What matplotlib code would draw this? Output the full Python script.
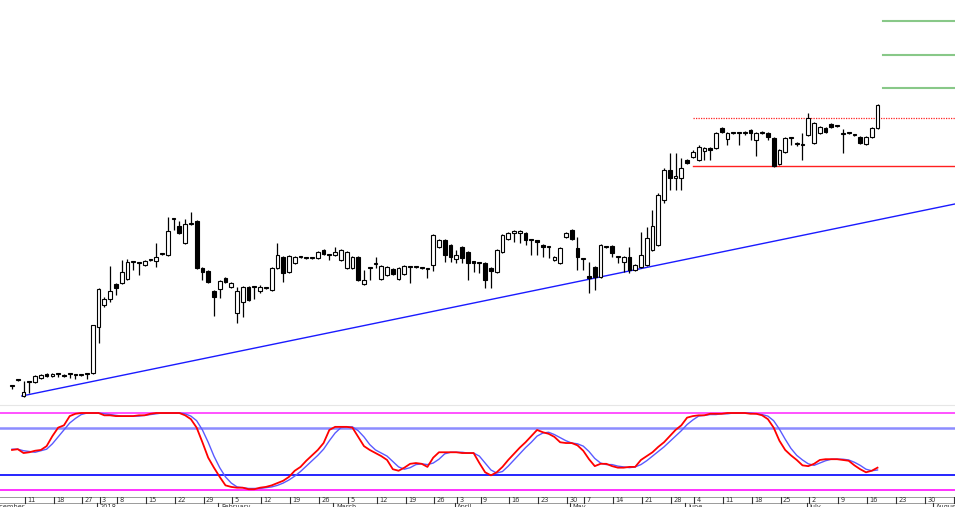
import matplotlib
matplotlib.use('Agg')
import matplotlib.pyplot as plt

# daily candles, prices in cents
opens = [114, 120, 104, 118, 118, 122, 126, 124, 126, 125, 126, 125, 125, 126, 127, 173, 195, 201, 216, 217,
         221, 238, 237, 235, 240, 239, 246, 245, 281, 274, 257, 276, 279, 232, 229, 209, 211, 222, 213, 187,
         198, 213, 213, 209, 212, 210, 232, 243, 228, 237, 243, 242, 242, 242, 250, 245, 245, 240, 232, 232,
         243, 216, 232, 236, 221, 225, 231, 221, 226, 233, 233, 232, 231, 235, 253, 260, 255, 241, 253, 248,
         239, 237, 237, 232, 228, 248, 261, 267, 267, 267, 260, 260, 255, 253, 240, 237, 263, 270, 252, 241,
         224, 233, 223, 253, 254, 243, 238, 243, 230, 233, 235, 250, 255, 300, 330, 322, 322, 340, 343, 340,
         349, 352, 352, 372, 361, 367, 367, 367, 370, 360, 367, 367, 362, 336, 348, 362, 356, 355, 365, 357,
         367, 372, 376, 374, 366, 367, 365, 363, 356, 363, 372]
highs = [114, 120, 119, 119, 125, 126, 127, 127, 126, 126, 126, 125, 125, 126, 175, 212, 203, 234, 217, 240,
         241, 238, 237, 240, 240, 257, 246, 283, 281, 279, 281, 288, 280, 233, 230, 210, 220, 223, 218, 213,
         214, 214, 213, 215, 213, 233, 257, 244, 245, 244, 243, 242, 242, 249, 251, 245, 253, 251, 249, 244,
         244, 230, 232, 243, 235, 234, 232, 233, 235, 234, 233, 232, 231, 266, 261, 261, 256, 250, 254, 249,
         239, 237, 238, 233, 251, 266, 268, 270, 270, 268, 260, 260, 256, 253, 244, 253, 268, 271, 263, 241,
         238, 234, 256, 253, 255, 243, 244, 253, 236, 268, 273, 290, 307, 332, 347, 347, 342, 341, 350, 355,
         353, 353, 368, 373, 368, 367, 367, 369, 371, 368, 369, 368, 363, 351, 363, 363, 358, 367, 387, 378,
         374, 373, 377, 374, 371, 367, 365, 364, 364, 373, 396]
lows = [111, 119, 103, 107, 117, 121, 123, 123, 123, 123, 122, 121, 124, 121, 126, 157, 193, 198, 205, 216,
        220, 230, 225, 234, 239, 233, 245, 244, 270, 266, 256, 275, 231, 220, 217, 184, 202, 217, 212, 177,
        183, 199, 201, 207, 211, 209, 231, 218, 227, 236, 242, 241, 241, 241, 245, 240, 244, 239, 231, 231,
        219, 215, 220, 232, 220, 224, 225, 220, 225, 217, 232, 231, 222, 229, 252, 238, 238, 237, 237, 220,
        228, 227, 212, 212, 227, 247, 260, 258, 257, 255, 245, 245, 243, 242, 239, 236, 262, 260, 230, 230,
        207, 210, 222, 252, 243, 237, 228, 227, 229, 232, 234, 249, 254, 297, 310, 310, 310, 336, 342, 339,
        340, 340, 351, 367, 355, 366, 355, 365, 360, 344, 366, 360, 333, 335, 347, 355, 354, 340, 364, 356,
        366, 367, 372, 373, 347, 366, 364, 356, 355, 362, 371]
closes = [114, 120, 108, 119, 124, 125, 124, 126, 126, 124, 126, 125, 125, 126, 175, 211, 201, 209, 212, 228,
          238, 238, 237, 239, 240, 243, 246, 269, 281, 267, 276, 276, 232, 228, 218, 203, 219, 218, 217, 209,
          213, 200, 213, 213, 212, 232, 245, 227, 244, 243, 243, 242, 242, 248, 246, 245, 248, 250, 248, 243,
          220, 220, 232, 236, 234, 233, 226, 232, 234, 233, 233, 232, 231, 265, 260, 245, 243, 245, 242, 237,
          237, 237, 220, 229, 250, 265, 267, 269, 269, 260, 260, 258, 253, 253, 243, 252, 267, 261, 243, 241,
          222, 223, 255, 253, 247, 243, 243, 230, 235, 245, 262, 274, 305, 330, 322, 324, 332, 337, 348, 353,
          352, 350, 367, 368, 367, 367, 367, 367, 367, 367, 368, 363, 334, 350, 362, 362, 356, 355, 382, 377,
          373, 368, 373, 374, 366, 367, 365, 357, 363, 372, 395]

# slow stochastic %K (red) and %D (blue)
stoch_k = [52, 53, 48, 49, 51, 52, 57, 70, 81, 84, 96, 99, 100, 100, 100, 100, 97, 97, 96, 96,
           96, 96, 97, 97, 99, 100, 100, 100, 100, 100, 97, 92, 81, 62, 42, 29, 17, 6, 4, 3,
           3, 1, 1, 3, 4, 6, 9, 12, 17, 25, 30, 38, 45, 52, 61, 78, 82, 82, 82, 81,
           69, 57, 52, 48, 44, 39, 27, 25, 29, 34, 35, 34, 30, 42, 49, 49, 49, 49, 48, 48,
           48, 35, 23, 19, 23, 30, 39, 47, 55, 62, 70, 78, 75, 73, 69, 62, 61, 61, 58, 51,
           40, 31, 34, 34, 31, 29, 29, 30, 30, 39, 44, 49, 56, 62, 70, 78, 84, 94, 96, 97,
           97, 99, 99, 99, 100, 100, 100, 100, 99, 99, 97, 92, 81, 64, 52, 45, 39, 32, 31, 34,
           39, 40, 40, 40, 39, 38, 32, 27, 23, 25, 29]
stoch_d = [53, 53, 51, 50, 49, 51, 53, 60, 69, 78, 87, 93, 98, 100, 100, 100, 99, 98, 97, 96,
           96, 96, 96, 97, 98, 99, 100, 100, 100, 100, 99, 96, 90, 78, 62, 44, 29, 17, 9, 4,
           3, 2, 2, 2, 3, 4, 6, 9, 13, 18, 24, 31, 38, 45, 53, 64, 74, 81, 82, 82,
           77, 69, 59, 52, 48, 44, 37, 30, 27, 29, 33, 34, 33, 35, 40, 47, 49, 49, 49, 48,
           48, 44, 35, 26, 22, 24, 31, 39, 47, 55, 62, 70, 74, 75, 72, 68, 64, 61, 60, 57,
           50, 41, 35, 33, 33, 31, 30, 29, 30, 33, 38, 44, 50, 56, 63, 70, 77, 85, 91, 96,
           97, 98, 98, 99, 99, 100, 100, 100, 100, 99, 98, 96, 90, 79, 66, 54, 45, 39, 34, 32,
           35, 38, 40, 40, 40, 39, 36, 32, 27, 25, 26]
stoch_levels = [100, 80, 20, 0]
level_colors = ['#ff44ff', '#8c8cff', '#1414ff', '#ff22ff']

# weekly ticks (day index of first trading day of the week)
week_idx = [2, 7, 12, 15, 18, 23, 28, 33, 38, 43, 48, 53, 58, 63, 68, 73, 77, 81, 86, 91,
            96, 99, 104, 109, 114, 118, 123, 128, 133, 138, 143, 148, 153, 158, 163]
week_lbl = ['11', '18', '27', '3', '8', '15', '22', '29', '5', '12', '19', '26', '5', '12', '19', '26',
            '3', '9', '16', '23', '30', '7', '14', '21', '28', '4', '11', '18', '25', '2', '9', '16',
            '23', '30', '6']
month_idx = [-4, 15, 36, 56, 77, 97, 117, 138, 160]
month_lbl = ['December', '2018', 'February', 'March', 'April', 'May', 'June', 'July', 'August']

# drawn lines
trend_x = [1.7, 163.4]
trend_y = [104, 296]
box_start = 118
resistance = 382
support = 334
target_start = 151
targets = [479, 445, 412]

W, H = 955, 507
fig = plt.figure(figsize=(W / 100, H / 100), dpi=100)
xlim = (-2.08, 163.43)

# price panel
ax = fig.add_axes([0, 1 - 400 / H, 1, 400 / H])
ax.set_xlim(*xlim)
ax.set_ylim(100, 500)
ax.axis('off')

days = range(len(opens))
ax.vlines(days, lows, highs, color='black', lw=0.9, zorder=2)
bottoms = [min(o, c) for o, c in zip(opens, closes)]
heights = [max(abs(c - o), 0.6) for o, c in zip(opens, closes)]
fills = ['white' if c >= o else 'black' for o, c in zip(opens, closes)]
ax.bar(days, heights, bottom=bottoms, width=0.65, color=fills, edgecolor='black',
       linewidth=0.8, zorder=3)

ax.plot(trend_x, trend_y, color='#1a1aff', lw=1.0, zorder=1)
ax.plot([box_start, xlim[1]], [support, support], color='#ff2020', lw=1.0)
ax.plot([box_start, xlim[1]], [resistance, resistance], color='#ff2020', lw=0.9, ls=(0, (1, 1)))
for t in targets:
    ax.plot([target_start, xlim[1]], [t, t], color='#88c888', lw=1.5)

# stochastic panel
ax2 = fig.add_axes([0, 1 - 497 / H, 1, 92 / H])
ax2.set_xlim(*xlim)
ax2.set_ylim(-9.1, 110.4)
for lvl, col in zip(stoch_levels, level_colors):
    ax2.axhline(lvl, color=col, lw=1.3 if lvl != 80 else 1.8)
ax2.plot(days, stoch_d, color='#5a5aff', lw=1.0)
ax2.plot(days, stoch_k, color='#ff0000', lw=1.3)
ax2.set_xticks([])
ax2.set_yticks([])
for s in ['left', 'right', 'bottom']:
    ax2.spines[s].set_visible(False)
ax2.spines['top'].set_color('#e6e6e6')
ax2.spines['top'].set_linewidth(0.8)

# date strip
ax3 = fig.add_axes([0, 1 - 517 / H, 1, 20 / H])
ax3.set_xlim(*xlim)
ax3.set_ylim(0, 20)
ax3.axis('off')
ax3.axhline(20, color='#9a9a9a', lw=0.7)
ax3.axhline(14, color='#9a9a9a', lw=0.7)
for i, lbl in zip(week_idx, week_lbl):
    ax3.plot([i + 0.2, i + 0.2], [14, 20], color='#333333', lw=0.8)
    ax3.text(i + 0.6, 17, lbl, fontsize=4.8, color='#333333', ha='left', va='center')
for i, lbl in zip(month_idx, month_lbl):
    ax3.plot([i - 0.3, i - 0.3], [0, 14], color='#333333', lw=0.8)
    ax3.text(i + 0.2, 13.2, lbl, fontsize=4.8, color='#333333', ha='left', va='top')

fig.savefig('out.png', dpi=100)
